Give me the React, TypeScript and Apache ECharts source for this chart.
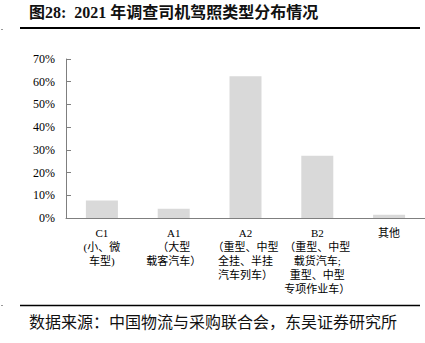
import React, { useEffect, useRef } from "react";
import * as echarts from "echarts";

const categories = [
  "C1\n(小、微\n车型)",
  "A1\n（大型\n载客汽车）",
  "A2\n（重型、中型\n全挂、半挂\n汽车列车）",
  "B2\n（重型、中型\n载货汽车;\n重型、中型\n专项作业车）",
  "其他",
];
const values = [7.7, 4.1, 62.4, 27.4, 1.4];
const yTicks = [0, 10, 20, 30, 40, 50, 60, 70];

const FONT = '"Liberation Serif", "Noto Sans CJK SC", serif';

export default function App() {
  const ref = useRef<HTMLDivElement>(null);
  useEffect(() => {
    document.body.style.margin = "0";
    const chart = echarts.init(ref.current!, null, { renderer: "svg" });
    chart.setOption({
      animation: false,
      backgroundColor: "#ffffff",
      grid: { left: 66, top: 59, width: 362, height: 159, containLabel: false },
      xAxis: {
        type: "category",
        data: categories,
        axisLine: { lineStyle: { color: "#7f7f7f", width: 1 } },
        axisTick: { inside: true, length: 3, lineStyle: { color: "#7f7f7f" } },
        axisLabel: {
          color: "#000",
          fontFamily: FONT,
          fontSize: 11,
          lineHeight: 14,
          margin: 8,
          interval: 0,
        },
      },
      yAxis: {
        type: "value",
        min: yTicks[0],
        max: yTicks[yTicks.length - 1],
        interval: 10,
        axisLine: { show: true, lineStyle: { color: "#7f7f7f", width: 1 } },
        axisTick: { show: true, inside: true, length: 5, lineStyle: { color: "#7f7f7f" } },
        splitLine: { show: false },
        axisLabel: {
          color: "#000",
          fontFamily: FONT,
          fontSize: 12,
          margin: 11,
          formatter: "{value}%",
        },
      },
      series: [
        {
          type: "bar",
          data: values,
          barWidth: 32,
          itemStyle: { color: "#d9d9d9" },
        },
      ],
      graphic: [
        {
          type: "text",
          left: 29,
          top: 4,
          style: {
            text: "图28:  2021 年调查司机驾照类型分布情况",
            fontFamily: FONT,
            fontSize: 16,
            fontWeight: "bold",
            fill: "#111",
          },
        },
        {
          type: "line",
          shape: { x1: 20, y1: 28, x2: 420, y2: 28 },
          style: { stroke: "#000", lineWidth: 2 },
        },
        {
          type: "line",
          shape: { x1: 20, y1: 305.5, x2: 420, y2: 305.5 },
          style: { stroke: "#000", lineWidth: 1.5 },
        },
        {
          type: "rect",
          shape: { x: 1, y: 29, width: 2, height: 1 },
          style: { fill: "#999" },
        },
        {
          type: "rect",
          shape: { x: 1, y: 305, width: 2, height: 1 },
          style: { fill: "#999" },
        },
        {
          type: "text",
          left: 29,
          top: 314,
          style: {
            text: "数据来源：中国物流与采购联合会，东吴证券研究所",
            fontFamily: FONT,
            fontSize: 16,
            fill: "#111",
          },
        },
      ],
    });
    return () => chart.dispose();
  }, []);
  return <div ref={ref} style={{ width: 425, height: 343 }} />;
}
